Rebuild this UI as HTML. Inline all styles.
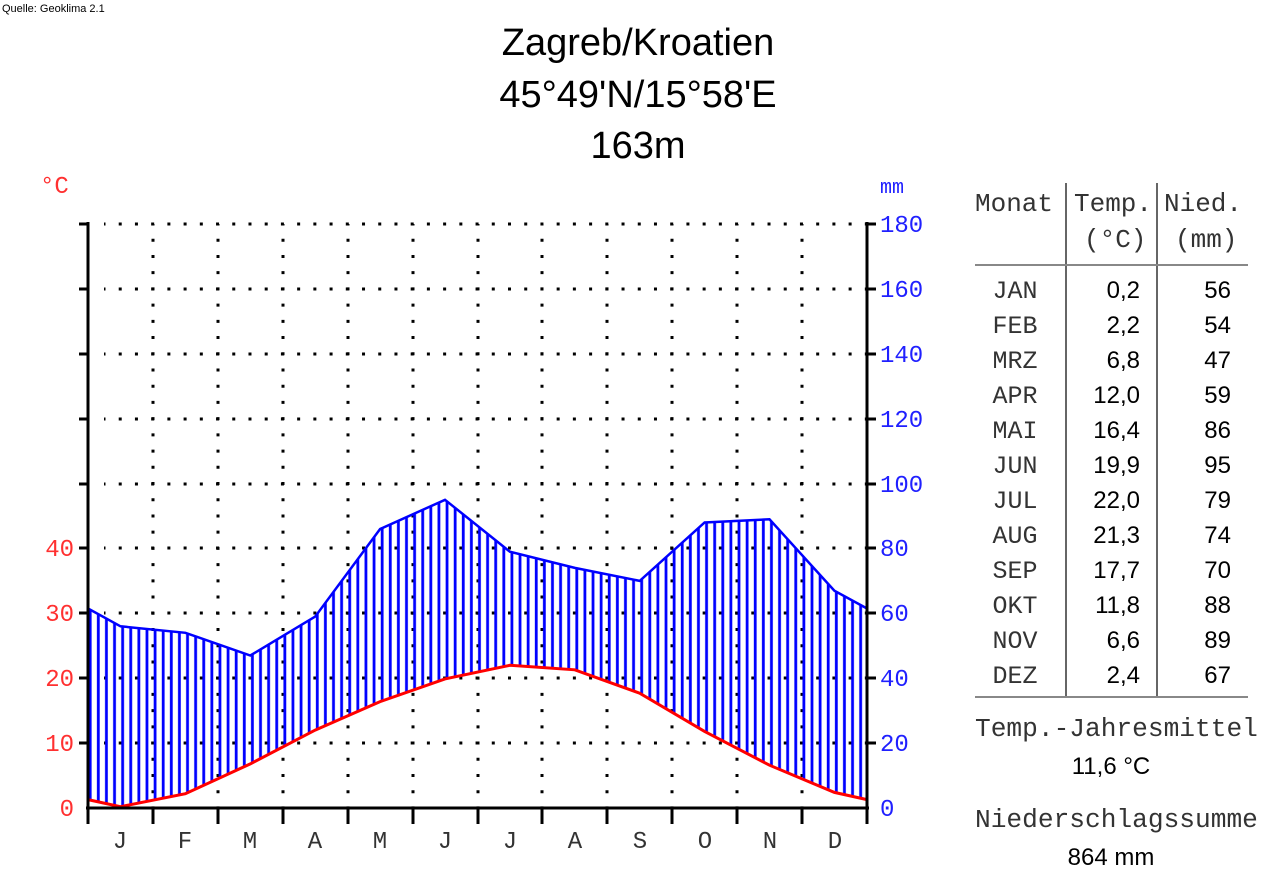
<!DOCTYPE html>
<html><head><meta charset="utf-8"><style>
body{margin:0;background:#fff;}
svg{display:block}
.s{font-family:"Liberation Sans",sans-serif}
.m{font-family:"Liberation Mono",monospace}
</style></head><body>
<svg width="1280" height="888" viewBox="0 0 1280 888" xmlns="http://www.w3.org/2000/svg">
<defs>
<pattern id="h" patternUnits="userSpaceOnUse" x="88" y="0" width="8.11" height="10">
<rect x="0.8" y="0" width="2.8" height="10" fill="#0000ff"/>
</pattern>
</defs>
<text x="2" y="12" class="s" font-size="11">Quelle: Geoklima 2.1</text>
<g class="s" font-size="38" text-anchor="middle">
<text x="638" y="55">Zagreb/Kroatien</text>
<text x="638" y="107">45°49'N/15°58'E</text>
<text x="638" y="158">163m</text>
</g>
<!-- grid -->
<g stroke="#000" stroke-width="3" stroke-dasharray="3 13.22" stroke-dashoffset="1.5">
<line x1="104" y1="224" x2="867" y2="224"/>
<line x1="104" y1="289" x2="867" y2="289"/>
<line x1="104" y1="354" x2="867" y2="354"/>
<line x1="104" y1="419" x2="867" y2="419"/>
<line x1="104" y1="484" x2="867" y2="484"/>
<line x1="104" y1="548" x2="867" y2="548"/>
<line x1="104" y1="613" x2="867" y2="613"/>
<line x1="104" y1="678" x2="867" y2="678"/>
<line x1="104" y1="743" x2="867" y2="743"/>
</g>
<g stroke="#000" stroke-width="3" stroke-dasharray="3 13.22" stroke-dashoffset="1.5">
<line x1="153" y1="224" x2="153" y2="808"/>
<line x1="218" y1="224" x2="218" y2="808"/>
<line x1="283" y1="224" x2="283" y2="808"/>
<line x1="348" y1="224" x2="348" y2="808"/>
<line x1="413" y1="224" x2="413" y2="808"/>
<line x1="478" y1="224" x2="478" y2="808"/>
<line x1="542" y1="224" x2="542" y2="808"/>
<line x1="607" y1="224" x2="607" y2="808"/>
<line x1="672" y1="224" x2="672" y2="808"/>
<line x1="737" y1="224" x2="737" y2="808"/>
<line x1="802" y1="224" x2="802" y2="808"/>
</g>
<!-- hatched area -->
<polygon fill="url(#h)" points="88,608.5 120.5,626.3 185.4,632.8 250.3,655.5 315.2,616.6 380.1,529 445,499.8 509.9,551.7 574.8,567.9 639.7,580.9 704.6,522.5 769.5,519.3 834.4,590.7 867,608.5 867,799.6 834.4,792.4 769.5,765.2 704.6,731.4 639.7,693.2 574.8,669.8 509.9,665.3 445,678.9 380.1,701.6 315.2,730.1 250.3,763.9 185.4,793.7 120.5,806.7 88,799.6"/>
<polyline fill="none" stroke="#0000ff" stroke-width="2.5" points="88,608.5 120.5,626.3 185.4,632.8 250.3,655.5 315.2,616.6 380.1,529 445,499.8 509.9,551.7 574.8,567.9 639.7,580.9 704.6,522.5 769.5,519.3 834.4,590.7 867,608.5"/>
<polyline fill="none" stroke="#ff0000" stroke-width="3" points="88,799.6 120.5,806.7 185.4,793.7 250.3,763.9 315.2,730.1 380.1,701.6 445,678.9 509.9,665.3 574.8,669.8 639.7,693.2 704.6,731.4 769.5,765.2 834.4,792.4 867,799.6"/>
<!-- axes -->
<g stroke="#000" stroke-width="3">
<line x1="88" y1="222" x2="88" y2="824"/>
<line x1="867" y1="222" x2="867" y2="824"/>
<line x1="86" y1="808" x2="869" y2="808"/>
<line x1="79" y1="224" x2="88" y2="224"/><line x1="79" y1="289" x2="88" y2="289"/><line x1="79" y1="354" x2="88" y2="354"/><line x1="79" y1="419" x2="88" y2="419"/><line x1="79" y1="484" x2="88" y2="484"/><line x1="79" y1="548" x2="88" y2="548"/><line x1="79" y1="613" x2="88" y2="613"/><line x1="79" y1="678" x2="88" y2="678"/><line x1="79" y1="743" x2="88" y2="743"/>
<line x1="867" y1="224" x2="876" y2="224"/><line x1="867" y1="289" x2="876" y2="289"/><line x1="867" y1="354" x2="876" y2="354"/><line x1="867" y1="419" x2="876" y2="419"/><line x1="867" y1="484" x2="876" y2="484"/><line x1="867" y1="548" x2="876" y2="548"/><line x1="867" y1="613" x2="876" y2="613"/><line x1="867" y1="678" x2="876" y2="678"/><line x1="867" y1="743" x2="876" y2="743"/>
<line x1="153" y1="808" x2="153" y2="824"/><line x1="218" y1="808" x2="218" y2="824"/><line x1="283" y1="808" x2="283" y2="824"/><line x1="348" y1="808" x2="348" y2="824"/><line x1="413" y1="808" x2="413" y2="824"/><line x1="478" y1="808" x2="478" y2="824"/><line x1="542" y1="808" x2="542" y2="824"/><line x1="607" y1="808" x2="607" y2="824"/><line x1="672" y1="808" x2="672" y2="824"/><line x1="737" y1="808" x2="737" y2="824"/><line x1="802" y1="808" x2="802" y2="824"/>
</g>
<text x="40" y="193" class="m" font-size="24" fill="#ff3030">°C</text>
<g class="m" font-size="24" fill="#ff3030" text-anchor="end">
<text x="74" y="816">0</text><text x="74" y="751">10</text><text x="74" y="686">20</text><text x="74" y="621">30</text><text x="74" y="556">40</text>
</g>
<g class="m" font-size="24" fill="#2020ff">
<text x="880" y="193" font-size="20">mm</text>
<text x="880" y="816">0</text><text x="880" y="751">20</text><text x="880" y="686">40</text><text x="880" y="621">60</text><text x="880" y="556">80</text><text x="880" y="492">100</text><text x="880" y="427">120</text><text x="880" y="362">140</text><text x="880" y="297">160</text><text x="880" y="232">180</text>
</g>
<g class="m" font-size="24" fill="#333" text-anchor="middle">
<text x="120" y="848">J</text><text x="185" y="848">F</text><text x="250" y="848">M</text><text x="315" y="848">A</text><text x="380" y="848">M</text><text x="445" y="848">J</text><text x="510" y="848">J</text><text x="575" y="848">A</text><text x="640" y="848">S</text><text x="705" y="848">O</text><text x="770" y="848">N</text><text x="835" y="848">D</text>
</g>
<!-- table -->
<g stroke="#333" stroke-width="1.5">
<line x1="1066" y1="183" x2="1066" y2="697"/>
<line x1="1157" y1="183" x2="1157" y2="697"/>
</g>
<g stroke="#888" stroke-width="2">
<line x1="975" y1="265" x2="1248" y2="265"/>
<line x1="975" y1="697" x2="1248" y2="697"/>
</g>
<g class="m" font-size="26" fill="#333">
<text x="975" y="211">Monat</text><text x="1074" y="211">Temp.</text><text x="1164" y="211">Nied.</text>
<text x="1084" y="247">(°C)</text><text x="1175" y="247">(mm)</text>
</g>
<g class="m" font-size="25" fill="#333" text-anchor="middle">
<text x="1015" y="298">JAN</text><text x="1015" y="333">FEB</text><text x="1015" y="368">MRZ</text><text x="1015" y="403">APR</text><text x="1015" y="438">MAI</text><text x="1015" y="473">JUN</text><text x="1015" y="508">JUL</text><text x="1015" y="543">AUG</text><text x="1015" y="578">SEP</text><text x="1015" y="613">OKT</text><text x="1015" y="648">NOV</text><text x="1015" y="683">DEZ</text>
</g>
<g class="s" font-size="24" fill="#000" text-anchor="end">
<text x="1140" y="298">0,2</text><text x="1140" y="333">2,2</text><text x="1140" y="368">6,8</text><text x="1140" y="403">12,0</text><text x="1140" y="438">16,4</text><text x="1140" y="473">19,9</text><text x="1140" y="508">22,0</text><text x="1140" y="543">21,3</text><text x="1140" y="578">17,7</text><text x="1140" y="613">11,8</text><text x="1140" y="648">6,6</text><text x="1140" y="683">2,4</text>
<text x="1231" y="298">56</text><text x="1231" y="333">54</text><text x="1231" y="368">47</text><text x="1231" y="403">59</text><text x="1231" y="438">86</text><text x="1231" y="473">95</text><text x="1231" y="508">79</text><text x="1231" y="543">74</text><text x="1231" y="578">70</text><text x="1231" y="613">88</text><text x="1231" y="648">89</text><text x="1231" y="683">67</text>
</g>
<text x="975" y="736" class="m" font-size="26.2" fill="#333">Temp.-Jahresmittel</text>
<text x="1111" y="774" class="s" font-size="24" text-anchor="middle">11,6 °C</text>
<text x="975" y="827" class="m" font-size="26.2" fill="#333">Niederschlagssumme</text>
<text x="1111" y="865" class="s" font-size="24" text-anchor="middle">864 mm</text>
</svg>
</body></html>
